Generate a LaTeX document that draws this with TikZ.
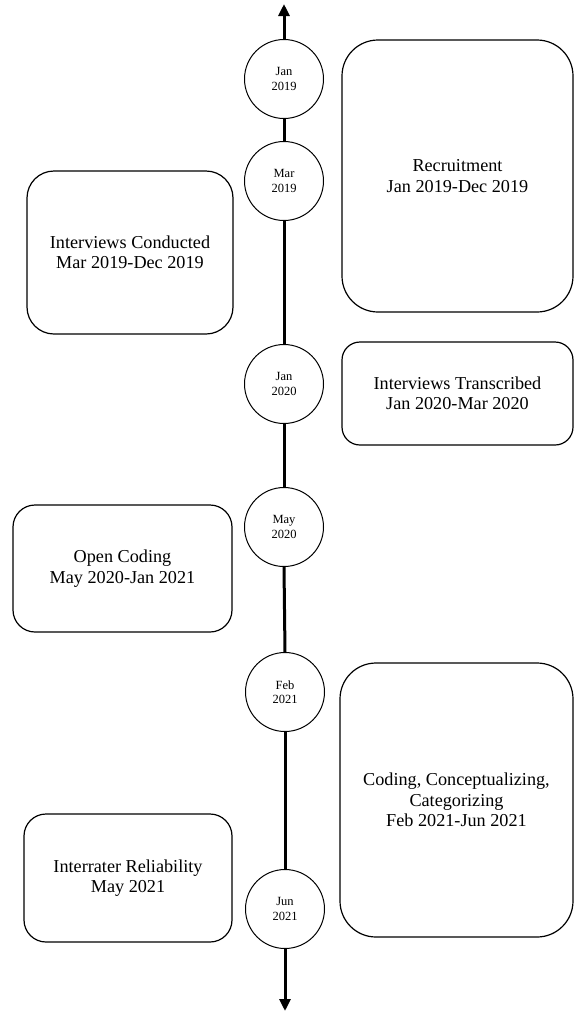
\documentclass[tikz,border=0pt]{standalone}
\usepackage{fontspec}
\setmainfont{Liberation Serif}
\usetikzlibrary{arrows.meta}
\tikzset{
  datecirc/.style={circle, draw, line width=1pt, minimum size=79pt, inner sep=0pt, align=center, font=\fontsize{12.5}{14.5}\selectfont},
  phase/.style={draw, line width=1.2pt, inner sep=0pt, align=center, font=\fontsize{18.2}{20.5}\selectfont},
  axis/.style={line width=3pt},
  axisarrow/.style={line width=3pt, -{Triangle[length=12pt,width=11pt]}}
}
\begin{document}
\begin{tikzpicture}[x=1pt,y=-1pt]
\useasboundingbox (0,0) rectangle (574,1013);
% date circles
\node[datecirc] (c1) at (284,79) {Jan\\2019};
\node[datecirc] (c2) at (284,181) {Mar\\2019};
\node[datecirc] (c3) at (284,384) {Jan\\2020};
\node[datecirc] (c4) at (284,527) {May\\2020};
\node[datecirc] (c5) at (285,692) {Feb\\2021};
\node[datecirc] (c6) at (285,909) {Jun\\2021};
\coordinate (top) at (284,4);
\coordinate (bot) at (285,1011);
% timeline
\draw[axisarrow] (c1.north) -- (top);
\draw[axis] (c1.south) -- (c2.north);
\draw[axis] (c2.south) -- (c3.north);
\draw[axis] (c3.south) -- (c4.north);
\draw[axis] (c4.south) -- (c5.north);
\draw[axis] (c5.south) -- (c6.north);
\draw[axisarrow] (c6.south) -- (bot);
% phase boxes
\node[phase, rounded corners=36pt, minimum width=231pt, minimum height=272pt] (rec) at (457.5,176) {Recruitment\\Jan 2019-Dec 2019};
\node[phase, rounded corners=27pt, minimum width=206pt, minimum height=163pt] (ic) at (130,252.5) {Interviews Conducted\\Mar 2019-Dec 2019};
\node[phase, rounded corners=18pt, minimum width=231pt, minimum height=103pt] (it) at (457.5,393.5) {Interviews Transcribed\\Jan 2020-Mar 2020};
\node[phase, rounded corners=22pt, minimum width=219pt, minimum height=127pt] (oc) at (122.5,568.5) {Open Coding\\May 2020-Jan 2021};
\node[phase, rounded corners=36pt, minimum width=233pt, minimum height=274pt] (cc) at (456.5,800) {Coding, Conceptualizing,\\Categorizing\\Feb 2021-Jun 2021};
\node[phase, rounded corners=22pt, minimum width=208pt, minimum height=128pt] (ir) at (128,878) {Interrater Reliability\\May 2021};
\end{tikzpicture}
\end{document}
